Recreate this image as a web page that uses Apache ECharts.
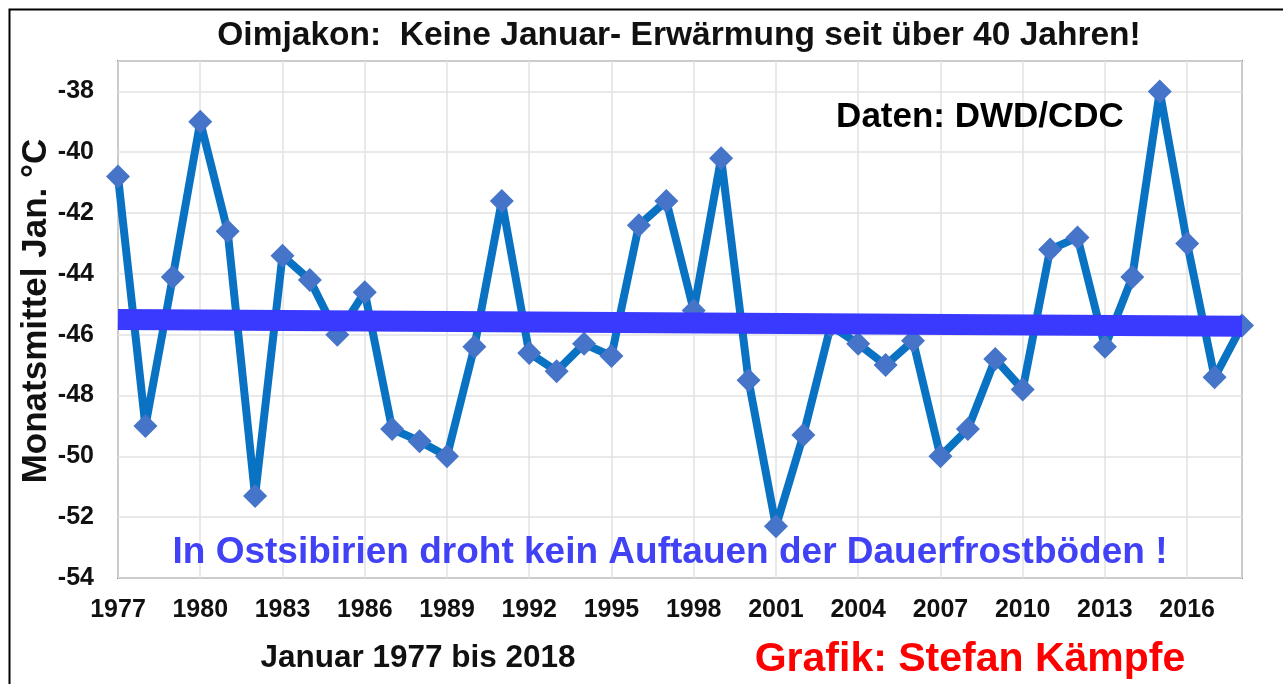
<!DOCTYPE html>
<html>
<head>
<meta charset="utf-8">
<script src="https://cdn.jsdelivr.net/npm/echarts@6/dist/echarts.min.js"></script>
<style>
  html, body { margin: 0; padding: 0; background: #fff; }
  #chart { width: 1283px; height: 684px; }
</style>
</head>
<body>
<div id="chart"></div>
<script>
// data
const years = [1977, 1978, 1979, 1980, 1981, 1982, 1983, 1984, 1985, 1986,
  1987, 1988, 1989, 1990, 1991, 1992, 1993, 1994, 1995, 1996,
  1997, 1998, 1999, 2000, 2001, 2002, 2003, 2004, 2005, 2006,
  2007, 2008, 2009, 2010, 2011, 2012, 2013, 2014, 2015, 2016,
  2017, 2018];
const janTemps = [-40.8, -49.0, -44.1, -39.0, -42.6, -51.3, -43.4, -44.2, -46.0, -44.6,
  -49.1, -49.5, -50.0, -46.4, -41.6, -46.6, -47.2, -46.3, -46.7, -42.4,
  -41.6, -45.2, -40.2, -47.5, -52.3, -49.3, -45.7, -46.3, -47.0, -46.2,
  -50.0, -49.1, -46.8, -47.8, -43.2, -42.8, -46.4, -44.1, -38.0, -43.0,
  -47.4, -45.7];
const trendYears = [1977, 2018];
const trendValues = [-45.5, -45.72];

const FONT = '"Liberation Sans", Arial, sans-serif';

const chart = echarts.init(document.getElementById('chart'));

const option = {
  backgroundColor: '#fff',
  animation: false,
  grid: {
    left: 118, right: 41, top: 61, bottom: 106,
    show: true, borderColor: '#8a8a8a', borderWidth: 2, backgroundColor: 'transparent'
  },
  xAxis: {
    type: 'value',
    min: 1977, max: 2018, interval: 3,
    axisLine: { show: false },
    axisTick: { show: false },
    splitLine: { show: true, lineStyle: { color: '#e2e2e2', width: 1.5 } },
    axisLabel: {
      margin: 20,
      color: '#111', fontFamily: FONT, fontWeight: 'bold', fontSize: 25,
      formatter: (v) => (v === 2018 ? '' : String(v))
    }
  },
  yAxis: {
    type: 'value',
    min: -54, max: -37, interval: 2,
    axisLine: { show: false },
    axisTick: { show: false },
    splitLine: { show: true, lineStyle: { color: '#e2e2e2', width: 1.5 } },
    axisLabel: {
      margin: 24,
      color: '#111', fontFamily: FONT, fontWeight: 'bold', fontSize: 25,
      formatter: (v) => (v === -37 ? '' : String(v))
    }
  },
  series: [
    {
      type: 'line',
      data: years.map((y, i) => [y, janTemps[i]]),
      lineStyle: { color: '#0a72c2', width: 8 },
      itemStyle: { color: '#4574c8' },
      symbol: 'diamond',
      symbolSize: 24,
      z: 2,
      clip: false
    },
    {
      type: 'line',
      data: trendYears.map((y, i) => [y, trendValues[i]]),
      lineStyle: { color: '#3a3aff', width: 21, cap: 'butt' },
      symbol: 'none',
      z: 5
    }
  ],
  graphic: [
    {
      type: 'rect', left: 7, top: 7, z: 10, silent: true,
      shape: { width: 1300, height: 700 },
      style: { fill: 'none', stroke: '#000', lineWidth: 2 }
    },
    {
      type: 'text', x: 679, y: 36, z: 10,
      style: {
        text: 'Oimjakon:  Keine Januar- Erwärmung seit über 40 Jahren!',
        font: 'bold 33.5px ' + FONT, fill: '#111',
        textAlign: 'center', textVerticalAlign: 'middle'
      }
    },
    {
      type: 'text', x: 980, y: 117, z: 10,
      style: {
        text: 'Daten: DWD/CDC',
        font: 'bold 35px ' + FONT, fill: '#000',
        textAlign: 'center', textVerticalAlign: 'middle'
      }
    },
    {
      type: 'text', x: 670, y: 553, z: 10,
      style: {
        text: 'In Ostsibirien droht kein Auftauen der Dauerfrostböden !',
        font: 'bold 37px ' + FONT, fill: '#4141f5',
        textAlign: 'center', textVerticalAlign: 'middle'
      }
    },
    {
      type: 'text', x: 36, y: 311, z: 10, rotation: Math.PI / 2,
      style: {
        text: 'Monatsmittel Jan. °C',
        font: 'bold 35px ' + FONT, fill: '#111',
        textAlign: 'center', textVerticalAlign: 'middle'
      }
    },
    {
      type: 'text', x: 418, y: 658, z: 10,
      style: {
        text: 'Januar 1977 bis 2018',
        font: 'bold 31.5px ' + FONT, fill: '#111',
        textAlign: 'center', textVerticalAlign: 'middle'
      }
    },
    {
      type: 'text', x: 970, y: 660, z: 10,
      style: {
        text: 'Grafik: Stefan Kämpfe',
        font: 'bold 41px ' + FONT, fill: '#ff0000',
        textAlign: 'center', textVerticalAlign: 'middle'
      }
    }
  ]
};

chart.setOption(option);
</script>
</body>
</html>
